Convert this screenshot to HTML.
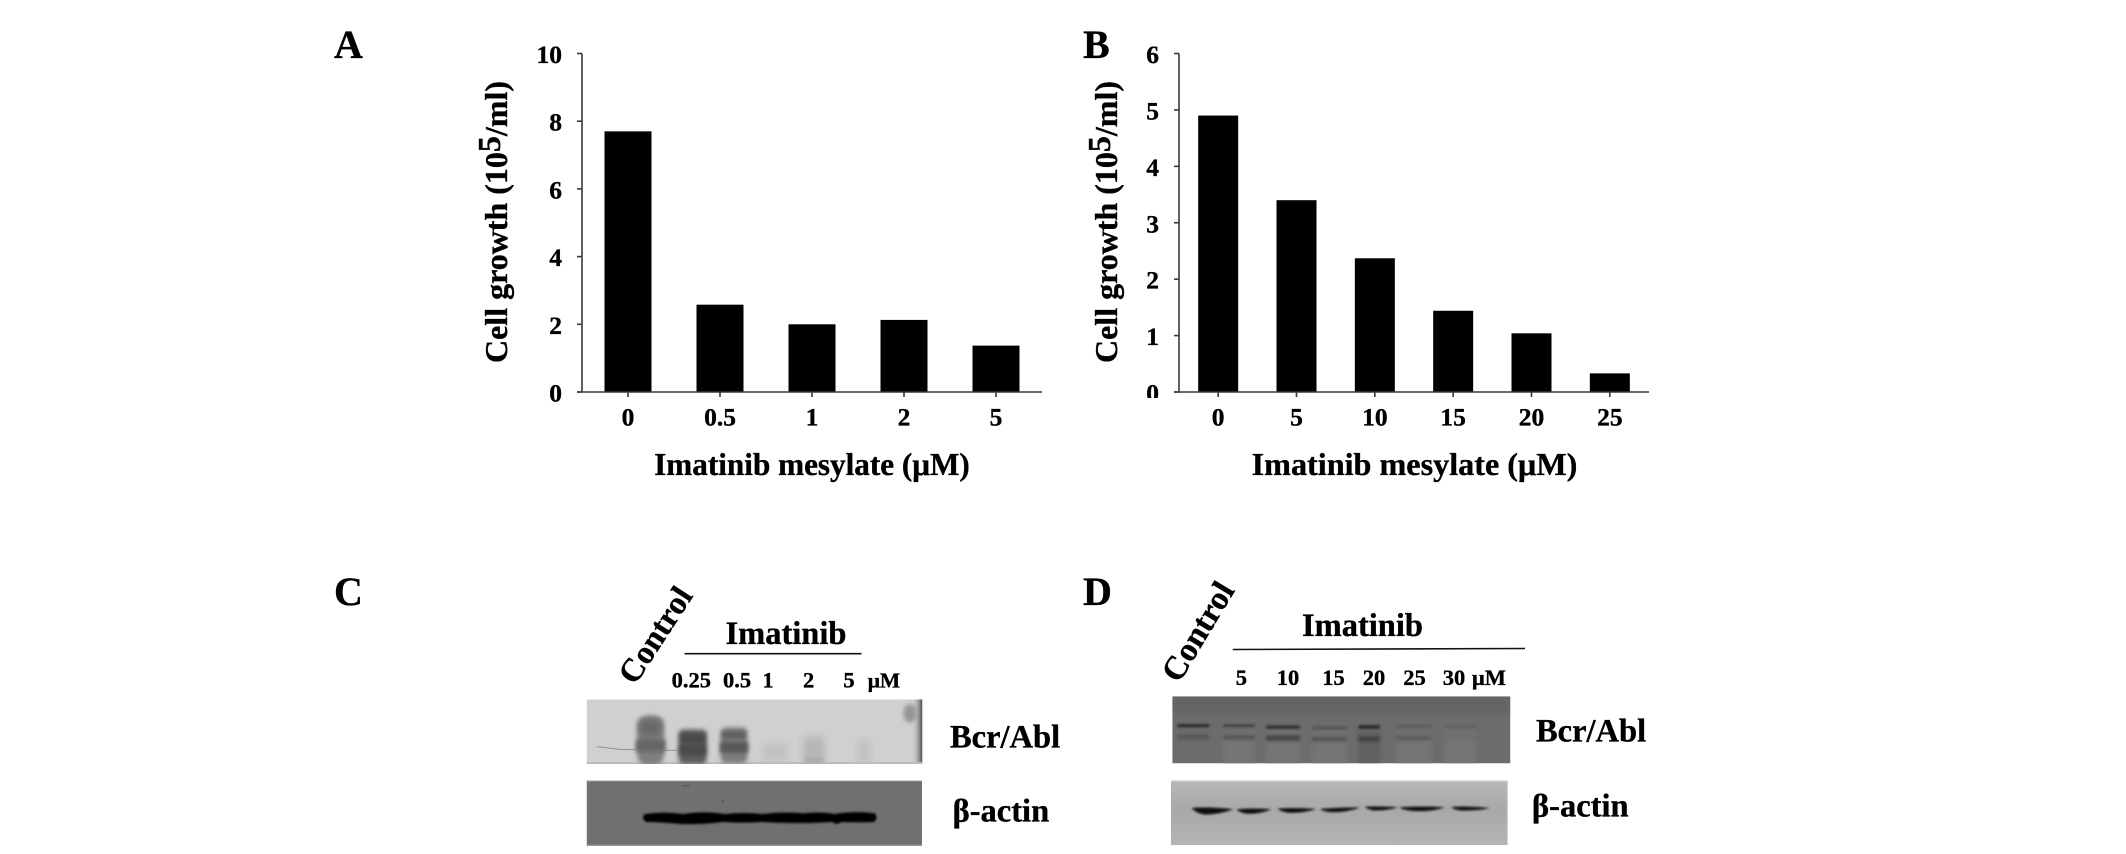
<!DOCTYPE html>
<html lang="en">
<head>
<meta charset="utf-8">
<title>Imatinib mesylate cell growth and Bcr/Abl blots</title>
<style>
html,body{margin:0;padding:0;background:#fff;width:2126px;height:854px;overflow:hidden}
svg{display:block}
text{font-family:"Liberation Serif","DejaVu Serif",serif;font-weight:bold;fill:#000;stroke:#000;stroke-width:0.35px}
</style>
</head>
<body>
<svg id="figure" xmlns="http://www.w3.org/2000/svg" width="2126" height="854" viewBox="0 0 2126 854">
  <defs>
    <filter id="b1" x="-30%" y="-100%" width="160%" height="300%"><feGaussianBlur stdDeviation="3"/></filter>
    <filter id="b2" x="-30%" y="-100%" width="160%" height="300%"><feGaussianBlur stdDeviation="4.5"/></filter>
    <filter id="b5" x="-30%" y="-30%" width="160%" height="160%"><feGaussianBlur stdDeviation="6"/></filter>
    <filter id="b10" x="-30%" y="-30%" width="160%" height="160%"><feGaussianBlur stdDeviation="11"/></filter>
    <clipPath id="clip-c1"><rect x="50" y="28" width="1007" height="194"/></clipPath>
    <clipPath id="clip-c2"><rect x="50" y="272" width="1006" height="196"/></clipPath>
    <clipPath id="clip-d1"><rect x="37" y="19" width="1014" height="201"/></clipPath>
    <clipPath id="clip-d2"><rect x="33" y="271" width="1010" height="194"/></clipPath>
    <clipPath id="clip-b-zero"><rect x="1130" y="370" width="40" height="28"/></clipPath>
    <linearGradient id="d2-bg" x1="0" y1="0" x2="0" y2="1">
      <stop offset="0" stop-color="#b8b8b8"/><stop offset="0.45" stop-color="#a8a8a8"/><stop offset="1" stop-color="#b4b4b4"/>
    </linearGradient>
    <linearGradient id="c1-edge" x1="0" y1="0" x2="1" y2="0">
      <stop offset="0" stop-color="#cfcfcf" stop-opacity="0"/><stop offset="1" stop-color="#4a4a4a"/>
    </linearGradient>
  </defs>

  <text x="334" y="58" font-size="40">A</text>
  <text x="1083" y="58" font-size="40">B</text>
  <text x="334" y="605" font-size="40">C</text>
  <text x="1083" y="605" font-size="40">D</text>

  <g id="chart-a"></g>
  <g id="chart-b"></g>

  <text transform="translate(507,363) rotate(-90)" font-size="31.5" textLength="282" lengthAdjust="spacingAndGlyphs">Cell growth (10<tspan dy="-7">5</tspan><tspan dy="7">/ml)</tspan></text>
  <text transform="translate(1117,363) rotate(-90)" font-size="31.5" textLength="282" lengthAdjust="spacingAndGlyphs">Cell growth (10<tspan dy="-7">5</tspan><tspan dy="7">/ml)</tspan></text>
  <text x="812" y="475" font-size="31.2" text-anchor="middle">Imatinib mesylate (μM)</text>
  <text x="1414.5" y="475" font-size="32.2" text-anchor="middle">Imatinib mesylate (μM)</text>

  <!-- Panel C -->
  <g>
    <text transform="translate(635,686) rotate(-57)" font-size="32.5">Control</text>
    <text x="786" y="644" font-size="32.5" text-anchor="middle">Imatinib</text>
    <line x1="684.5" y1="653.7" x2="861.5" y2="653.7" stroke="#111" stroke-width="1.6"/>
    <text x="691.3" y="687.7" font-size="22.5" text-anchor="middle">0.25</text>
    <text x="737" y="687.7" font-size="22.5" text-anchor="middle">0.5</text>
    <text x="768" y="687.7" font-size="22.5" text-anchor="middle">1</text>
    <text x="808.6" y="687.7" font-size="22.5" text-anchor="middle">2</text>
    <text x="849" y="687.7" font-size="22.5" text-anchor="middle">5</text>
    <text x="867.7" y="687.7" font-size="21.5">μM</text>
    <text x="950" y="747.7" font-size="32.5">Bcr/Abl</text>
    <text x="952.6" y="821.7" font-size="32.5">β-actin</text>
  </g>
  <g transform="translate(570,690) scale(0.33333)">
    <g clip-path="url(#clip-c1)">
      <rect x="50" y="28" width="1007" height="194" fill="#d0d0d0"/>
      <rect x="1025" y="28" width="32" height="194" fill="url(#c1-edge)"/>
      <ellipse cx="1020" cy="70" rx="20" ry="28" fill="#959595" filter="url(#b5)"/>
      <rect x="50" y="216" width="1007" height="6" fill="#bbb"/>
      <rect x="202" y="76" width="80" height="150" rx="30" fill="#7f7f7f" filter="url(#b5)"/>
      <rect x="210" y="92" width="62" height="44" fill="#666" filter="url(#b10)"/>
      <rect x="198" y="148" width="88" height="38" fill="#666" filter="url(#b5)"/>
      <rect x="326" y="118" width="84" height="104" rx="14" fill="#5c5c5c" filter="url(#b5)"/>
      <rect x="332" y="132" width="74" height="30" fill="#484848" filter="url(#b5)"/>
      <rect x="328" y="165" width="80" height="30" fill="#484848" filter="url(#b5)"/>
      <rect x="452" y="112" width="80" height="108" rx="16" fill="#7c7c7c" filter="url(#b5)"/>
      <rect x="456" y="124" width="70" height="22" fill="#5e5e5e" filter="url(#b5)"/>
      <rect x="450" y="156" width="84" height="32" fill="#565656" filter="url(#b5)"/>
      <rect x="578" y="158" width="76" height="60" fill="#c2c2c2" filter="url(#b10)"/>
      <rect x="700" y="140" width="64" height="80" fill="#b6b6b6" filter="url(#b10)"/>
      <rect x="702" y="204" width="60" height="16" fill="#aaa" filter="url(#b5)"/>
      <rect x="862" y="150" width="40" height="72" fill="#c2c2c2" filter="url(#b10)"/>
      <path d="M80 170 L150 178 L320 181" fill="none" stroke="#777" stroke-width="3" opacity="0.7"/>
    </g>
  </g>
  <g transform="translate(570,690) scale(0.33333)">
    <g clip-path="url(#clip-c2)">
      <rect x="50" y="272" width="1006" height="196" fill="#707070"/>
      <rect x="50" y="272" width="1006" height="4" fill="#888"/>
      <rect x="50" y="464" width="1006" height="4" fill="#999"/>
      <path d="M225 372 Q280 364 340 372 Q400 362 465 372 Q520 366 575 372 Q640 364 700 370 Q750 364 795 372 Q850 362 915 370 Q925 384 912 396 Q860 398 815 396 L800 402 L785 396 Q700 402 575 396 Q520 400 460 396 Q400 404 330 402 Q270 396 228 396 Q212 384 225 372Z" fill="#050505" filter="url(#b1)"/>
      <rect x="335" y="285" width="24" height="4" fill="#5a5a5a"/>
      <circle cx="458" cy="334" r="3.5" fill="#555"/>
    </g>
  </g>

  <!-- Panel D -->
  <g>
    <text transform="translate(1179,684) rotate(-59)" font-size="33">Control</text>
    <text x="1362.5" y="636" font-size="32.5" text-anchor="middle">Imatinib</text>
    <line x1="1232.7" y1="649.5" x2="1525" y2="648.5" stroke="#111" stroke-width="1.6"/>
    <text x="1241.4" y="685" font-size="22.5" text-anchor="middle">5</text>
    <text x="1288" y="685" font-size="22.5" text-anchor="middle">10</text>
    <text x="1333.5" y="685" font-size="22.5" text-anchor="middle">15</text>
    <text x="1374" y="685" font-size="22.5" text-anchor="middle">20</text>
    <text x="1414.5" y="685" font-size="22.5" text-anchor="middle">25</text>
    <text x="1454" y="685" font-size="22.5" text-anchor="middle">30</text>
    <text x="1472" y="685" font-size="22.5">μM</text>
    <text x="1536" y="741.7" font-size="32.5">Bcr/Abl</text>
    <text x="1532" y="816.7" font-size="32.5">β-actin</text>
  </g>
  <g transform="translate(1160,690) scale(0.33333)">
    <g clip-path="url(#clip-d1)">
      <rect x="37" y="19" width="1014" height="201" fill="#6c6c6c"/>
      <rect x="37" y="19" width="1014" height="50" fill="#646464" filter="url(#b10)"/>
      <g fill="#747474" filter="url(#b5)">
        <rect x="190" y="125" width="95" height="100"/>
        <rect x="318" y="125" width="102" height="100"/>
        <rect x="455" y="125" width="105" height="100"/>
        <rect x="710" y="125" width="105" height="100"/>
        <rect x="855" y="125" width="95" height="100"/>
      </g>
      <rect x="595" y="125" width="65" height="100" fill="#606060" filter="url(#b5)"/>
      <g fill="#2a2a2a" filter="url(#b1)">
        <rect x="52" y="102" width="96" height="10" rx="4" opacity="0.9"/>
        <rect x="190" y="103" width="95" height="8" rx="3" opacity="0.6"/>
        <rect x="318" y="106" width="102" height="11" rx="4" opacity="0.85"/>
        <rect x="458" y="109" width="104" height="8" rx="3" opacity="0.4"/>
        <rect x="595" y="105" width="65" height="12" rx="4" opacity="0.95"/>
        <rect x="708" y="106" width="106" height="6" rx="3" opacity="0.3"/>
        <rect x="855" y="108" width="95" height="4" rx="2" opacity="0.15"/>
      </g>
      <g fill="#414141" filter="url(#b2)">
        <rect x="52" y="134" width="96" height="14" rx="4" opacity="0.55"/>
        <rect x="190" y="135" width="95" height="14" rx="4" opacity="0.65"/>
        <rect x="318" y="135" width="102" height="18" rx="4" opacity="0.85"/>
        <rect x="455" y="139" width="105" height="16" rx="4" opacity="0.6"/>
        <rect x="595" y="139" width="65" height="16" rx="4" opacity="0.95"/>
        <rect x="708" y="137" width="106" height="14" rx="4" opacity="0.5"/>
        <rect x="855" y="137" width="95" height="10" rx="4" opacity="0.2"/>
      </g>
    </g>
  </g>
  <g transform="translate(1160,690) scale(0.33333)">
    <g clip-path="url(#clip-d2)">
      <rect x="33" y="271" width="1010" height="194" fill="url(#d2-bg)"/>
      <rect x="33" y="271" width="1010" height="4" fill="#ccc"/>
      <g fill="#080808" filter="url(#b1)">
        <path d="M95 354 Q150 350 220 358 Q160 378 125 372 Q105 366 95 354Z"/>
        <path d="M230 358 Q280 354 334 358 Q300 372 260 371 Q240 368 230 358Z"/>
        <path d="M353 356 Q410 352 468 357 Q430 370 385 368 Q362 365 353 356Z"/>
        <path d="M480 357 Q540 352 600 352 Q560 368 510 366 Q490 364 480 357Z"/>
        <path d="M615 350 Q670 348 714 352 Q680 362 640 361 Q622 358 615 350Z"/>
        <path d="M718 352 Q790 348 855 352 Q810 366 760 363 Q730 360 718 352Z"/>
        <path d="M874 351 Q930 348 990 354 Q950 363 900 361 Q880 358 874 351Z"/>
      </g>
    </g>
  </g>
</svg>
<script>
const categoriesA = ["0", "0.5", "1", "2", "5"];
const valuesA = [7.7, 2.58, 2.0, 2.13, 1.37];
const ticksA = [0, 2, 4, 6, 8, 10];
const categoriesB = ["0", "5", "10", "15", "20", "25"];
const valuesB = [4.9, 3.4, 2.37, 1.44, 1.04, 0.33];
const ticksB = [0, 1, 2, 3, 4, 5, 6];

const SVGNS = "http://www.w3.org/2000/svg";

function line(parent, x1, y1, x2, y2) {
  const el = document.createElementNS(SVGNS, "line");
  el.setAttribute("x1", x1);
  el.setAttribute("y1", y1);
  el.setAttribute("x2", x2);
  el.setAttribute("y2", y2);
  el.setAttribute("stroke", "#3a3a3a");
  el.setAttribute("stroke-width", "1.6");
  parent.appendChild(el);
  return el;
}

function drawChart(opts) {
  const root = document.getElementById(opts.id);
  const x0 = opts.x0, x1 = opts.x1, yTop = 53.5, yBase = 392;
  const maxV = opts.ticks[opts.ticks.length - 1];
  const yScale = function (v) { return yBase - (v / maxV) * (yBase - yTop); };
  const step = (x1 - x0) / opts.categories.length;
  const xCenter = function (i) { return x0 + step * (i + 0.5); };

  opts.values.forEach(function (v, i) {
    const r = document.createElementNS(SVGNS, "rect");
    r.setAttribute("x", xCenter(i) - opts.barWidth / 2);
    r.setAttribute("y", yScale(v));
    r.setAttribute("width", opts.barWidth);
    r.setAttribute("height", yBase - yScale(v));
    r.setAttribute("fill", "#000");
    
    
    root.appendChild(r);
  });

  const yAxis = line(root, x0, yTop, x0, yBase);
  
  
  const xAxis = line(root, x0 - 5, yBase, x1, yBase);
  
  

  opts.ticks.forEach(function (t) {
    const y = yScale(t);
    const tick = line(root, x0 - 5, y, x0, y);
    
    
    const label = document.createElementNS(SVGNS, "text");
    label.setAttribute("x", opts.labelRight);
    label.setAttribute("y", y + 9.5);
    label.setAttribute("font-size", "25.5");
    label.setAttribute("text-anchor", "end");
    
    
    if (t === 0 && opts.clipZero) {
      label.setAttribute("clip-path", "url(#clip-b-zero)");
    }
    label.textContent = String(t);
    root.appendChild(label);
  });

  opts.categories.forEach(function (c, i) {
    const x = xCenter(i);
    const tick = line(root, x, yBase, x, yBase + 5);
    
    
    const label = document.createElementNS(SVGNS, "text");
    label.setAttribute("x", x);
    label.setAttribute("y", 425.5);
    label.setAttribute("font-size", "25.5");
    label.setAttribute("text-anchor", "middle");
    
    
    label.textContent = c;
    root.appendChild(label);
  });
}

drawChart({ id: "chart-a", categories: categoriesA, values: valuesA, ticks: ticksA, x0: 582, x1: 1042, barWidth: 47, labelRight: 562, clipZero: false });
drawChart({ id: "chart-b", categories: categoriesB, values: valuesB, ticks: ticksB, x0: 1179, x1: 1649, barWidth: 40, labelRight: 1159, clipZero: true });
</script>
</body>
</html>
